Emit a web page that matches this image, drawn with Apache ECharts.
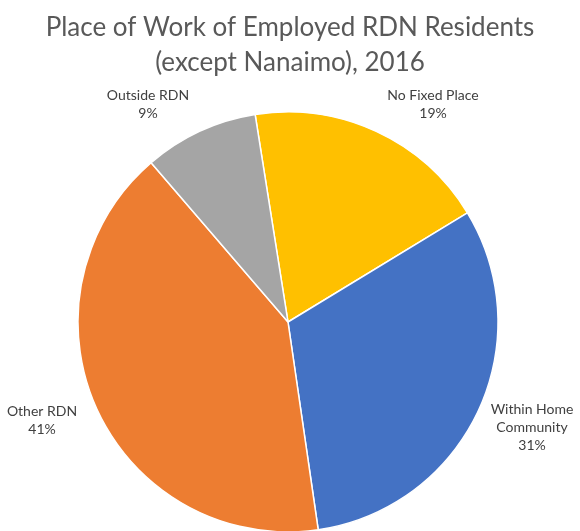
<!DOCTYPE html>
<html>
<head>
<meta charset="utf-8">
<script src="https://cdn.jsdelivr.net/npm/echarts@6/dist/echarts.min.js"></script>
<style>
  html, body { margin: 0; padding: 0; background: #fff; }
  #chart { width: 580px; height: 531px; }
</style>
</head>
<body>
<div id="chart"></div>
<script>
const categories = ['No Fixed Place', 'Within Home\nCommunity', 'Other RDN', 'Outside RDN']
const shares = [18.8, 31.4, 41.0, 8.8]
const colors = ['#FFC000', '#4472C4', '#ED7D31', '#A5A5A5']

// where Excel put each data label (centre of text block)
const labelSpots = [
  [433, 104],
  [532, 427],
  [42, 420],
  [148, 104],
]

const chart = echarts.init(document.getElementById('chart'))

chart.setOption({
  animation: false,
  title: {
    text: 'Place of Work of Employed RDN Residents\n(except Nanaimo), 2016',
    left: 'center',
    top: 5,
    textStyle: {
      fontFamily: 'Lato',
      fontSize: 26,
      fontWeight: 'normal',
      color: '#595959',
      lineHeight: 35,
    },
  },
  series: [
    {
      type: 'pie',
      center: [288, 322],
      radius: 210,
      startAngle: 99,
      clockwise: true,
      data: categories.map((name, i) => ({
        name,
        value: shares[i],
        itemStyle: { color: colors[i] },
      })),
      itemStyle: { borderColor: '#fff', borderWidth: 1.5 },
      label: {
        show: true,
        position: 'outside',
        formatter: (p) => `${p.name}\n${Math.round(p.percent)}%`,
        fontFamily: 'Lato',
        fontSize: 14,
        lineHeight: 18,
        color: '#404040',
        align: 'center',
        overflow: 'none',
      },
      labelLine: { show: false },
      labelLayout: (params) => {
        const spot = labelSpots[params.dataIndex]
        return { x: spot[0], y: spot[1], align: 'center', verticalAlign: 'middle' }
      },
      emphasis: { disabled: true },
    },
  ],
})

window.addEventListener('resize', () => chart.resize())
</script>
</body>
</html>
